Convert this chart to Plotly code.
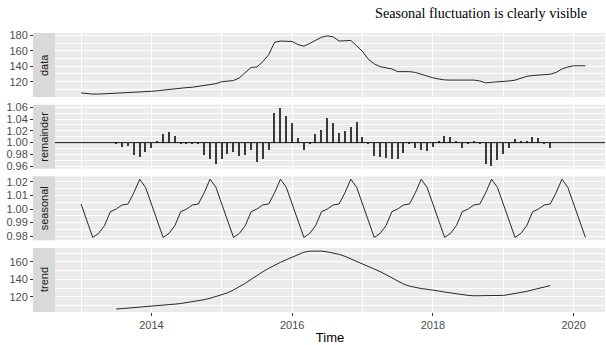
import plotly.graph_objects as go

# ---------------- data (monthly, Jan 2013 - Mar 2020) ----------------
START_YEAR = 2013
data_values = [105.5, 104.3, 104.0, 104.0, 104.3, 104.8, 105.0, 105.2, 105.8, 106.6, 107.0, 107.3,
               107.6, 108.3, 109.2, 110.0, 111.2, 112.0, 112.4, 112.9, 114.0, 115.0, 116.0, 117.5,
               120.0, 120.8, 121.5, 125.0, 132.0, 138.5, 139.0, 146.0, 155.0, 171.0, 172.5, 172.5,
               172.0, 168.0, 166.0, 169.5, 173.5, 177.5, 179.2, 178.0, 172.5, 173.0, 173.3, 166.5,
               159.0, 149.0, 143.0, 139.5, 138.0, 136.5, 133.0, 133.0, 133.0, 132.0, 129.5, 127.0,
               125.0, 123.5, 122.3, 122.1, 122.1, 122.1, 122.1, 122.1, 121.0, 118.5, 119.3, 119.6,
               120.0, 121.0, 122.0, 124.5, 127.0, 128.0, 128.8, 129.3, 129.7, 132.0, 136.5, 139.0,
               140.6, 140.6, 140.6]

seasonal_values = [1.0037, 0.9910, 0.9790, 0.9820, 0.9877, 0.9980, 1.0000, 1.0030, 1.0037, 1.0120, 1.0220, 1.0160,
                   1.0037, 0.9910, 0.9790, 0.9820, 0.9877, 0.9980, 1.0000, 1.0030, 1.0037, 1.0120, 1.0220, 1.0160,
                   1.0037, 0.9910, 0.9790, 0.9820, 0.9877, 0.9980, 1.0000, 1.0030, 1.0037, 1.0120, 1.0220, 1.0160,
                   1.0037, 0.9910, 0.9790, 0.9820, 0.9877, 0.9980, 1.0000, 1.0030, 1.0037, 1.0120, 1.0220, 1.0160,
                   1.0037, 0.9910, 0.9790, 0.9820, 0.9877, 0.9980, 1.0000, 1.0030, 1.0037, 1.0120, 1.0220, 1.0160,
                   1.0037, 0.9910, 0.9790, 0.9820, 0.9877, 0.9980, 1.0000, 1.0030, 1.0037, 1.0120, 1.0220, 1.0160,
                   1.0037, 0.9910, 0.9790, 0.9820, 0.9877, 0.9980, 1.0000, 1.0030, 1.0037, 1.0120, 1.0220, 1.0160,
                   1.0037, 0.9910, 0.9790]

# trend & remainder: Jul 2013 - Sep 2019
TREND_OFFSET = 6
trend_values = [105.9, 106.4, 106.9, 107.5, 108.1, 108.8,
                109.4, 110.0, 110.5, 111.0, 111.6, 112.3, 113.2, 114.3, 115.5, 116.7, 118.3, 120.2,
                122.2, 124.5, 127.8, 131.4, 135.4, 139.9, 144.6, 148.7, 152.6, 156.2, 159.4, 162.4,
                165.2, 168.0, 171.0, 172.2, 172.5, 172.3, 171.4, 170.0, 168.6, 166.3, 163.5, 160.6,
                157.6, 154.7, 151.8, 148.8, 145.3, 141.6, 137.8, 134.5, 132.2, 130.6, 129.4, 128.6,
                127.9, 126.6, 125.4, 124.3, 123.3, 122.4, 121.6, 121.1, 121.1, 121.1, 121.1, 121.1,
                121.6, 122.6, 123.7, 124.9, 126.2, 127.9, 129.6, 131.3, 132.8]

remainder_values = [0.9990, 0.9927, 0.9955, 0.9798, 0.9770, 0.9843, 0.9916,
                    1.0022, 1.0151, 1.0190, 1.0112, 0.9990, 0.9978, 0.9978, 0.9978, 0.9804, 0.9720,
                    0.9641, 0.9731, 0.9821, 0.9843, 0.9776, 0.9804, 0.9888, 0.9675, 0.9720, 0.9888,
                    1.0515, 1.0594, 1.0459, 1.0336, 1.0078, 0.9888, 0.9990, 1.0146, 1.0224, 1.0415,
                    1.0336, 1.0174, 1.0196, 1.0275, 1.0359, 1.0106, 0.9990, 0.9787, 0.9759, 0.9742,
                    0.9731, 0.9731, 0.9832, 0.9978, 0.9910, 0.9888, 0.9866, 0.9933, 1.0017, 1.0118,
                    1.0106, 1.0017, 0.9916, 0.9978, 1.0034, 0.9990, 0.9641, 0.9608, 0.9703, 0.9810,
                    0.9922, 1.0062, 1.0022, 1.0022, 1.0106, 1.0078, 0.9990, 0.9910]

panel_names = ["data", "remainder", "seasonal", "trend"]
x_tick_values = [2014, 2016, 2018, 2020]
title_text = "Seasonal fluctuation is clearly visible"

# ---------------- derived x positions ----------------
time_all = [START_YEAR + m / 12 for m in range(len(data_values))]
time_trend = time_all[TREND_OFFSET:TREND_OFFSET + len(trend_values)]
time_rem = time_all[TREND_OFFSET:TREND_OFFSET + len(remainder_values)]

def expand(vals, f=0.05):
    lo, hi = min(vals), max(vals)
    d = (hi - lo) * f
    return [lo - d, hi + d]

xr = [2012.63, 2020.445]

W, H = 606, 345
ML, MR, MT, MB = 33, 1, 33, 33
plot_w = W - ML - MR
plot_h = H - MT - MB
x_dom0 = 22 / plot_w

# panel pixel positions (from top of page): each 64 px tall
panel_px = [(33.0, 97.0), (104.67, 168.67), (176.33, 240.33), (248.0, 312.0)]
domains = []
for top, bot in panel_px:
    d0 = (MT + plot_h - bot) / plot_h
    d1 = (MT + plot_h - top) / plot_h
    domains.append([max(0.0, min(1.0, d0)), max(0.0, min(1.0, d1))])

fig = go.Figure()
line_style = dict(color="#111111", width=0.9)

fig.add_trace(go.Scatter(x=time_all, y=data_values, mode="lines", line=line_style,
                         xaxis="x", yaxis="y", hoverinfo="skip"))
fig.add_trace(go.Bar(x=time_rem, y=[v - 1 for v in remainder_values], base=1, width=0.019,
                     marker=dict(color="#3a3a3a", line=dict(width=0)),
                     xaxis="x2", yaxis="y2", hoverinfo="skip"))
fig.add_trace(go.Scatter(x=time_all, y=seasonal_values, mode="lines", line=line_style,
                         xaxis="x3", yaxis="y3", hoverinfo="skip"))
fig.add_trace(go.Scatter(x=time_trend, y=trend_values, mode="lines", line=line_style,
                         xaxis="x4", yaxis="y4", hoverinfo="skip"))

tick_font = dict(family="Liberation Sans, Arial, sans-serif", size=11, color="#4D4D4D")

y_specs = [
    dict(range=expand(data_values), tick0=120, dtick=20, minor_dtick=10, fmt=""),
    dict(range=expand(remainder_values), tick0=0.96, dtick=0.02, minor_dtick=0.01, fmt=".2f"),
    dict(range=expand(seasonal_values), tick0=0.98, dtick=0.01, minor_dtick=0.005, fmt=".2f"),
    dict(range=expand(trend_values), tick0=120, dtick=20, minor_dtick=10, fmt=""),
]

layout = dict(
    width=W, height=H,
    margin=dict(l=ML, r=MR, t=MT, b=MB, pad=0),
    paper_bgcolor="white", plot_bgcolor="#EBEBEB",
    showlegend=False, bargap=0,
    font=dict(family="Liberation Sans, Arial, sans-serif"),
)

for i in range(4):
    sfx = "" if i == 0 else str(i + 1)
    ys = y_specs[i]
    layout["yaxis" + sfx] = dict(
        domain=domains[i], range=ys["range"], tick0=ys["tick0"], dtick=ys["dtick"],
        tickformat=ys["fmt"], anchor="free", position=0,
        showgrid=True, gridcolor="white", gridwidth=1.1,
        minor=dict(dtick=ys["minor_dtick"], showgrid=True, gridcolor="white", gridwidth=0.5, ticks=""),
        ticks="outside", ticklen=3, tickcolor="#333333", tickwidth=1,
        tickfont=tick_font, showline=False, zeroline=False, fixedrange=True, automargin=False,
    )
    layout["xaxis" + sfx] = dict(
        domain=[x_dom0, 1], range=xr, anchor="y" + sfx,
        tickvals=x_tick_values, ticktext=[str(v) for v in x_tick_values],
        showgrid=True, gridcolor="white", gridwidth=1.1,
        minor=dict(tick0=2013, dtick=1, showgrid=True, gridcolor="white", gridwidth=0.5, ticks=""),
        showticklabels=(i == 3), ticks=("outside" if i == 3 else ""), ticklen=3,
        tickcolor="#333333", tickwidth=1, tickfont=tick_font,
        showline=False, zeroline=False, fixedrange=True, automargin=False,
    )
    if i > 0:
        layout["xaxis" + sfx]["matches"] = "x"

layout["xaxis4"]["title"] = dict(text="Time", font=dict(size=13, color="#000000",
                                 family="Liberation Sans, Arial, sans-serif"), standoff=2)

shapes = []
annotations = []
for i, name in enumerate(panel_names):
    sfx = "" if i == 0 else str(i + 1)
    shapes.append(dict(type="rect", xref="paper", yref="y" + sfx + " domain",
                       x0=0, x1=x_dom0, y0=0, y1=1, fillcolor="#D9D9D9", line=dict(width=0),
                       layer="below"))
    annotations.append(dict(text=name, xref="paper", yref="y" + sfx + " domain",
                            x=x_dom0 / 2, y=0.5, xanchor="center", yanchor="middle",
                            textangle=-90, showarrow=False,
                            font=dict(size=11, color="#1A1A1A",
                                      family="Liberation Sans, Arial, sans-serif")))
# baseline of the remainder panel
shapes.append(dict(type="line", xref="x2 domain", yref="y2", x0=0, x1=1, y0=1, y1=1,
                   line=dict(color="#111111", width=1)))

annotations.append(dict(text=title_text, xref="paper", yref="paper",
                        x=(373 - ML) / plot_w, y=1,
                        xanchor="left", yanchor="middle", yshift=20.5, showarrow=False,
                        font=dict(family="Liberation Serif, Times New Roman, serif",
                                  size=14.2, color="#000000")))
layout["shapes"] = shapes
layout["annotations"] = annotations

fig.update_layout(**layout)
fig.write_html("out.html", config={"displayModeBar": False},
               post_script="document.body.style.margin='0px';")
